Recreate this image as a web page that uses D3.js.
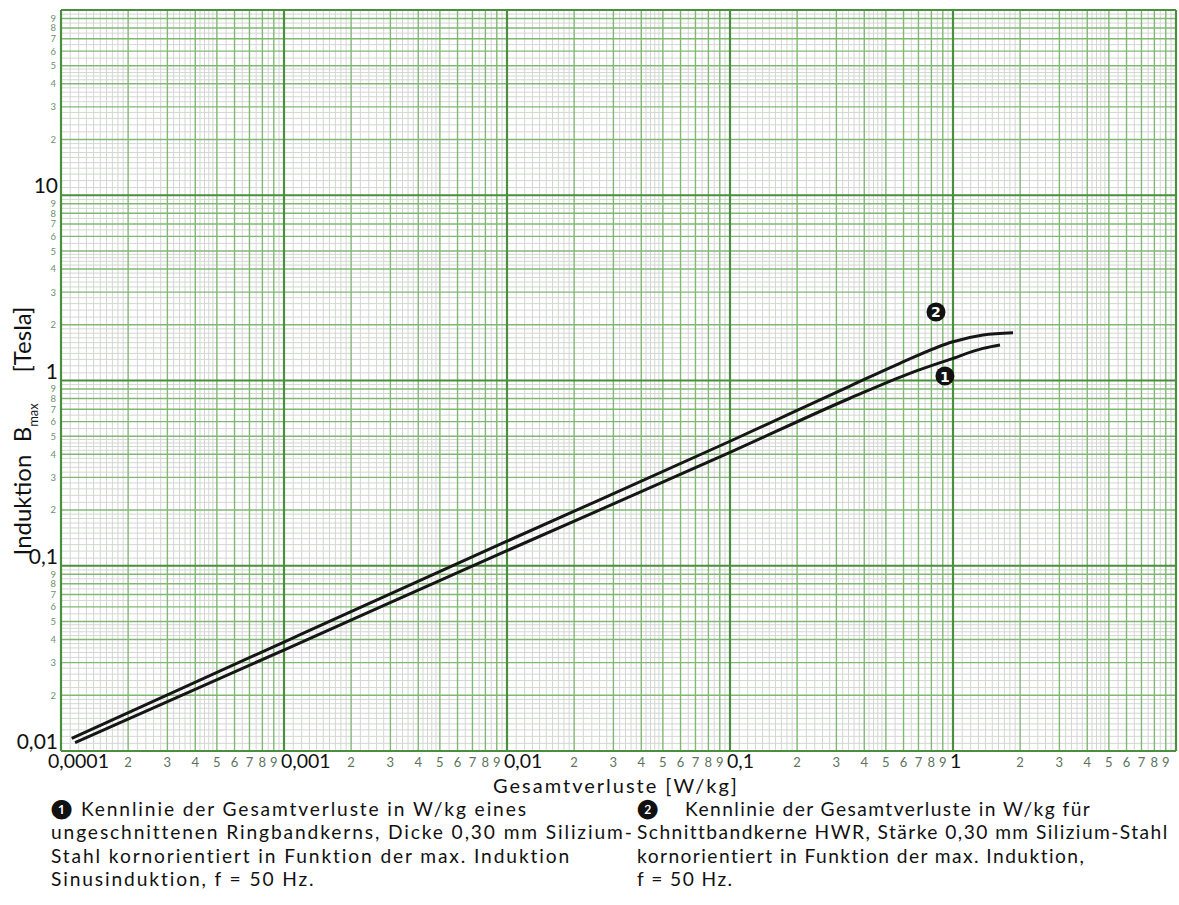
<!DOCTYPE html>
<html>
<head>
<meta charset="utf-8">
<script src="https://cdn.jsdelivr.net/npm/d3@7"></script>
<style>
  html, body { margin: 0; padding: 0; background: #fff; }
  svg { display: block; }
</style>
</head>
<body>
<svg id="chart" width="1179" height="905"></svg>
<script>
// ---------------- DATA ----------------
const xMajorTicks = [0.0001, 0.001, 0.01, 0.1, 1];
const xMajorLabels = ["0,0001", "0,001", "0,01", "0,1", "1"];
const yMajorTicks = [0.01, 0.1, 1, 10];
const yMajorLabels = ["0,01", "0,1", "1", "10"];
const minorDigits = [2, 3, 4, 5, 6, 7, 8, 9];
const xDecades = [0.0001, 0.001, 0.01, 0.1, 1];
const yDecades = [0.01, 0.1, 1, 10];

// Curve 1: Ringbandkern (lower)
const curve1W = [0.0001156, 0.001064, 0.0100, 0.100, 0.345, 0.662, 0.969, 1.363, 1.625];
const curve1B = [0.01109, 0.0363, 0.1206, 0.409, 0.802, 1.11, 1.30, 1.49, 1.555];
// Curve 2: Schnittbandkern HWR (upper)
const curve2W = [0.0001117, 0.001064, 0.0100, 0.100, 0.345, 0.578, 1.0, 1.363, 1.858];
const curve2B = [0.01171, 0.0401, 0.1357, 0.470, 0.933, 1.239, 1.62, 1.761, 1.811];

const markerLabels = ["2", "1"];
const markerW = [0.839, 0.92];
const markerB = [2.344, 1.057];

const xTitle = "Gesamtverluste [W/kg]";
const legendLeft = [
  "\u2776 Kennlinie der Gesamtverluste in W/kg eines",
  "ungeschnittenen Ringbandkerns, Dicke 0,30 mm Silizium-",
  "Stahl kornorientiert in Funktion der max. Induktion",
  "Sinusinduktion, f = 50 Hz."
];
const legendRight = [
  "\u2777    Kennlinie der Gesamtverluste in W/kg für",
  "Schnittbandkerne HWR, Stärke 0,30 mm Silizium-Stahl",
  "kornorientiert in Funktion der max. Induktion,",
  "f = 50 Hz."
];

// ---------------- LAYOUT ----------------
const svg = d3.select("#chart");
const x = d3.scaleLog().domain([1e-4, 10]).range([61, 1176]);
const y = d3.scaleLog().domain([0.01, 100]).range([751, 10]);
const FONT = "Lato, 'Open Sans', sans-serif";

const fineMult = [];
for (let m = 1.1; m < 1.95; m += 0.1) fineMult.push(+m.toFixed(2));
for (let m = 2.2; m < 4.95; m += 0.2) { const v = +m.toFixed(2); if (Math.abs(v - Math.round(v)) > 1e-6) fineMult.push(v); }
for (let m = 5.5; m < 10; m += 1) fineMult.push(+m.toFixed(2));

const gx = [], gxMid = [], gy = [], gyMid = [];
xDecades.forEach(d => {
  fineMult.forEach(m => gx.push(m * d));
  minorDigits.forEach(m => gxMid.push(m * d));
});
yDecades.forEach(d => {
  fineMult.forEach(m => gy.push(m * d));
  minorDigits.forEach(m => gyMid.push(m * d));
});

const grid = svg.append("g");
const [x0, x1] = x.range();
const [yb, yt] = y.range();

// fine grey lines
grid.selectAll(".fx").data(gx).join("line")
  .attr("x1", d => x(d)).attr("x2", d => x(d)).attr("y1", yt).attr("y2", yb)
  .attr("stroke", "#d3d6d3").attr("stroke-width", 1);
grid.selectAll(".fy").data(gy).join("line")
  .attr("x1", x0).attr("x2", x1).attr("y1", d => y(d)).attr("y2", d => y(d))
  .attr("stroke", "#d3d6d3").attr("stroke-width", 1);
// green integer lines
grid.selectAll(".mx").data(gxMid).join("line")
  .attr("x1", d => x(d)).attr("x2", d => x(d)).attr("y1", yt).attr("y2", yb)
  .attr("stroke", "#80b873").attr("stroke-width", 1.4);
grid.selectAll(".my").data(gyMid).join("line")
  .attr("x1", x0).attr("x2", x1).attr("y1", d => y(d)).attr("y2", d => y(d))
  .attr("stroke", "#80b873").attr("stroke-width", 1.4);
// decade lines
const decX = xDecades.concat([10]);
const decY = yDecades.concat([100]);
grid.selectAll(".dx").data(decX).join("line")
  .attr("x1", d => x(d)).attr("x2", d => x(d)).attr("y1", yt).attr("y2", yb)
  .attr("stroke", "#4a8f3e").attr("stroke-width", 2.2);
grid.selectAll(".dy").data(decY).join("line")
  .attr("x1", x0).attr("x2", x1).attr("y1", d => y(d)).attr("y2", d => y(d))
  .attr("stroke", "#4a8f3e").attr("stroke-width", 2.2);

// ---------------- TICK LABELS ----------------
const minorX = [];
xDecades.forEach(d => minorDigits.forEach(m => minorX.push({v: m * d, t: String(m)})));
svg.append("g").selectAll("text").data(minorX).join("text")
  .attr("x", d => x(d.v)).attr("y", 767)
  .attr("text-anchor", "middle")
  .attr("font-family", FONT).attr("font-size", 13)
  .attr("fill", "#5d735d")
  .text(d => d.t);

svg.append("g").selectAll("text").data(xMajorTicks).join("text")
  .attr("x", (d, i) => x(d) + (i === 0 ? -13 : -3)).attr("y", 768)
  .attr("text-anchor", "start")
  .attr("font-family", FONT).attr("font-size", 19.5)
  .attr("fill", "#111")
  .text((d, i) => xMajorLabels[i]);

const minorY = [];
yDecades.forEach(d => minorDigits.forEach(m => minorY.push({v: m * d, t: String(m)})));
svg.append("g").selectAll("text").data(minorY).join("text")
  .attr("x", 56).attr("y", d => y(d.v) + 3.5)
  .attr("text-anchor", "end")
  .attr("font-family", FONT).attr("font-size", 9.5)
  .attr("fill", "#6f8f6f")
  .text(d => d.t);

svg.append("g").selectAll("text").data(yMajorTicks).join("text")
  .attr("x", 58).attr("y", d => y(d) - 2)
  .attr("text-anchor", "end")
  .attr("font-family", FONT).attr("font-size", 21)
  .attr("fill", "#111")
  .text((d, i) => yMajorLabels[i]);

// ---------------- CURVES ----------------
const line = d3.line().x(d => x(d[0])).y(d => y(d[1])).curve(d3.curveMonotoneX);
const c1 = curve1W.map((w, i) => [w, curve1B[i]]);
const c2 = curve2W.map((w, i) => [w, curve2B[i]]);
svg.append("path").datum(c1).attr("d", line)
  .attr("fill", "none").attr("stroke", "#161616").attr("stroke-width", 3);
svg.append("path").datum(c2).attr("d", line)
  .attr("fill", "none").attr("stroke", "#161616").attr("stroke-width", 3);

// markers
const mk = svg.append("g").selectAll("g").data(markerLabels).join("g")
  .attr("transform", (d, i) => `translate(${x(markerW[i])},${y(markerB[i])})`);
mk.append("circle").attr("r", 9.5).attr("fill", "#111");
mk.append("text").attr("text-anchor", "middle").attr("dy", 5.5)
  .attr("font-family", "DejaVu Sans, sans-serif").attr("font-weight", "bold")
  .attr("font-size", 14).attr("fill", "#fff")
  .text(d => d);

// ---------------- AXIS TITLES ----------------
function fitSpacing(sel, target) {
  const node = sel.node();
  const w = node.getComputedTextLength();
  const n = node.textContent.length;
  if (w < target && n > 1) sel.attr("letter-spacing", ((target - w) / n).toFixed(2));
}
const xt = svg.append("text").attr("x", 616).attr("y", 792.5)
  .attr("text-anchor", "middle").attr("font-family", FONT).attr("font-size", 20)
  .attr("fill", "#111").text(xTitle);
fitSpacing(xt, 246);

const yt2 = svg.append("text")
  .attr("transform", "translate(31,431) rotate(-90)")
  .attr("text-anchor", "middle").attr("font-family", FONT).attr("font-size", 24)
  .attr("fill", "#111");
yt2.append("tspan").text("Induktion\u00a0\u00a0B");
yt2.append("tspan").attr("font-size", 13).attr("dy", 7).text("max");
yt2.append("tspan").attr("dy", -7).text("\u00a0\u00a0\u00a0\u00a0\u00a0[Tesla]");

// ---------------- LEGEND ----------------
function legend(lines, lx, targetWidthIdx, targetWidth) {
  const fs = 19.2;
  const g = svg.append("g");
  const texts = g.selectAll("text").data(lines).join("text")
    .attr("x", lx).attr("y", (d, i) => 816 + i * 23.3)
    .attr("font-family", FONT).attr("font-size", fs).attr("fill", "#111")
    .style("white-space", "pre")
    .text(d => d);
  const ref = texts.nodes()[targetWidthIdx];
  const w = ref.getComputedTextLength();
  const ls = Math.max(0, (targetWidth - w) / ref.textContent.length);
  texts.attr("letter-spacing", ls.toFixed(2));
}
legend(legendLeft, 51, 1, 582);
legend(legendRight, 637, 1, 531);
</script>
</body>
</html>
